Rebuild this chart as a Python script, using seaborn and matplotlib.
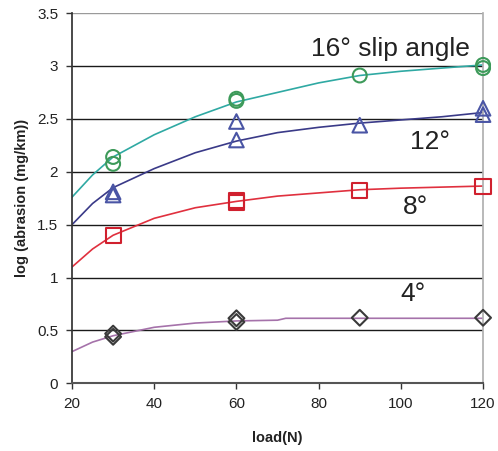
import matplotlib
matplotlib.use("Agg")
import matplotlib.pyplot as plt
import seaborn as sns
import pandas as pd

# ---- data ----
angles = ["16°", "12°", "8°", "4°"]

meas_load_16 = [30, 30, 60, 60, 90, 120, 120]
meas_val_16 = [2.14, 2.075, 2.67, 2.69, 2.91, 3.01, 2.98]
meas_load_12 = [30, 30, 60, 60, 90, 120, 120]
meas_val_12 = [1.81, 1.78, 2.475, 2.30, 2.44, 2.60, 2.54]
meas_load_8 = [30, 60, 60, 90, 120]
meas_val_8 = [1.40, 1.71, 1.73, 1.82, 1.86]
meas_load_4 = [30, 30, 60, 60, 90, 120]
meas_val_4 = [0.47, 0.44, 0.615, 0.58, 0.62, 0.62]

curve_load_16 = [20, 25, 30, 40, 50, 60, 70, 80, 90, 100, 110, 120]
curve_val_16 = [1.76, 1.97, 2.14, 2.35, 2.52, 2.66, 2.75, 2.84, 2.91, 2.95, 2.98, 3.01]
curve_load_12 = [20, 25, 30, 40, 50, 60, 70, 80, 90, 100, 110, 120]
curve_val_12 = [1.50, 1.70, 1.85, 2.03, 2.18, 2.29, 2.37, 2.42, 2.46, 2.49, 2.52, 2.56]
curve_load_8 = [20, 25, 30, 40, 50, 60, 70, 80, 90, 100, 110, 120]
curve_val_8 = [1.10, 1.27, 1.40, 1.56, 1.66, 1.72, 1.77, 1.80, 1.83, 1.845, 1.855, 1.865]
curve_load_4 = [20, 25, 30, 40, 50, 60, 70, 72, 120]
curve_val_4 = [0.30, 0.39, 0.45, 0.53, 0.57, 0.59, 0.597, 0.615, 0.615]

label_texts = ["16° slip angle", "12°", "8°", "4°"]
x_ticks = [20, 40, 60, 80, 100, 120]
y_ticks = [0, 0.5, 1, 1.5, 2, 2.5, 3, 3.5]

# ---- styles ----
line_colors = {"16°": "#2fa9a3", "12°": "#3a3a88", "8°": "#e0303e", "4°": "#a572aa"}
marker_colors = {"16°": "#3d9a5a", "12°": "#4a55a5", "8°": "#d0202e", "4°": "#3a3a3a"}
marker_shapes = {"16°": "o", "12°": "^", "8°": "s", "4°": "D"}
marker_sizes = {"16°": 100, "12°": 110, "8°": 120, "4°": 65}

meas = pd.concat([
    pd.DataFrame({"load": meas_load_16, "val": meas_val_16, "angle": "16°"}),
    pd.DataFrame({"load": meas_load_12, "val": meas_val_12, "angle": "12°"}),
    pd.DataFrame({"load": meas_load_8, "val": meas_val_8, "angle": "8°"}),
    pd.DataFrame({"load": meas_load_4, "val": meas_val_4, "angle": "4°"}),
], ignore_index=True)
curves = pd.concat([
    pd.DataFrame({"load": curve_load_16, "val": curve_val_16, "angle": "16°"}),
    pd.DataFrame({"load": curve_load_12, "val": curve_val_12, "angle": "12°"}),
    pd.DataFrame({"load": curve_load_8, "val": curve_val_8, "angle": "8°"}),
    pd.DataFrame({"load": curve_load_4, "val": curve_val_4, "angle": "4°"}),
], ignore_index=True)

sns.set_theme(style="white")
plt.rcParams["font.family"] = ["Liberation Sans", "DejaVu Sans"]

fig = plt.figure(figsize=(4.98, 4.51), dpi=100)
ax = fig.add_axes([0.1446, 0.150, 0.8254, 0.821])

for y in y_ticks[1:-1]:
    ax.axhline(y, color="#1a1a1a", lw=1.0, zorder=0)
ax.axhline(3.5, color="#9a9a9a", lw=1.0, zorder=0)

sns.lineplot(data=curves, x="load", y="val", hue="angle", palette=line_colors,
             estimator=None, sort=True, lw=1.2, legend=False, ax=ax, zorder=2)

for a in angles:
    sub = meas[meas["angle"] == a]
    ax.scatter(sub["load"], sub["val"], s=marker_sizes[a], marker=marker_shapes[a],
               facecolors="none", edgecolors=marker_colors[a], linewidths=1.5,
               zorder=3, clip_on=False)

ax.set_xlim(20, 120)
ax.set_ylim(0, 3.5)
ax.set_xticks(x_ticks)
ax.set_yticks(y_ticks)
ax.set_xticklabels([str(t) for t in x_ticks])
ax.set_yticklabels(["0", "0.5", "1", "1.5", "2", "2.5", "3", "3.5"])
ax.tick_params(axis="both", labelsize=11, colors="#333333", direction="out",
               length=4, width=1, bottom=True, left=True, pad=6)
for lab in ax.get_xticklabels() + ax.get_yticklabels():
    lab.set_color("#222222")

ax.spines["left"].set_color("#333333")
ax.spines["bottom"].set_color("#555555")
ax.spines["bottom"].set_linewidth(1.5)
ax.spines["right"].set_color("#b0b0b0")
ax.spines["top"].set_visible(False)

ax.set_xlabel("load(N)", fontsize=10.5, fontweight="bold", color="#222222", labelpad=14)
ax.set_ylabel("log (abrasion (mg/km))", fontsize=10.5, fontweight="bold",
              color="#222222", labelpad=6)

ax.text(97.4, 3.16, label_texts[0], fontsize=19, ha="center", va="center", color="#222222")
ax.text(107.0, 2.28, label_texts[1], fontsize=19, ha="center", va="center", color="#222222")
ax.text(103.5, 1.67, label_texts[2], fontsize=19, ha="center", va="center", color="#222222")
ax.text(103.0, 0.84, label_texts[3], fontsize=19, ha="center", va="center", color="#222222")

fig.savefig("out.png", dpi=100)
